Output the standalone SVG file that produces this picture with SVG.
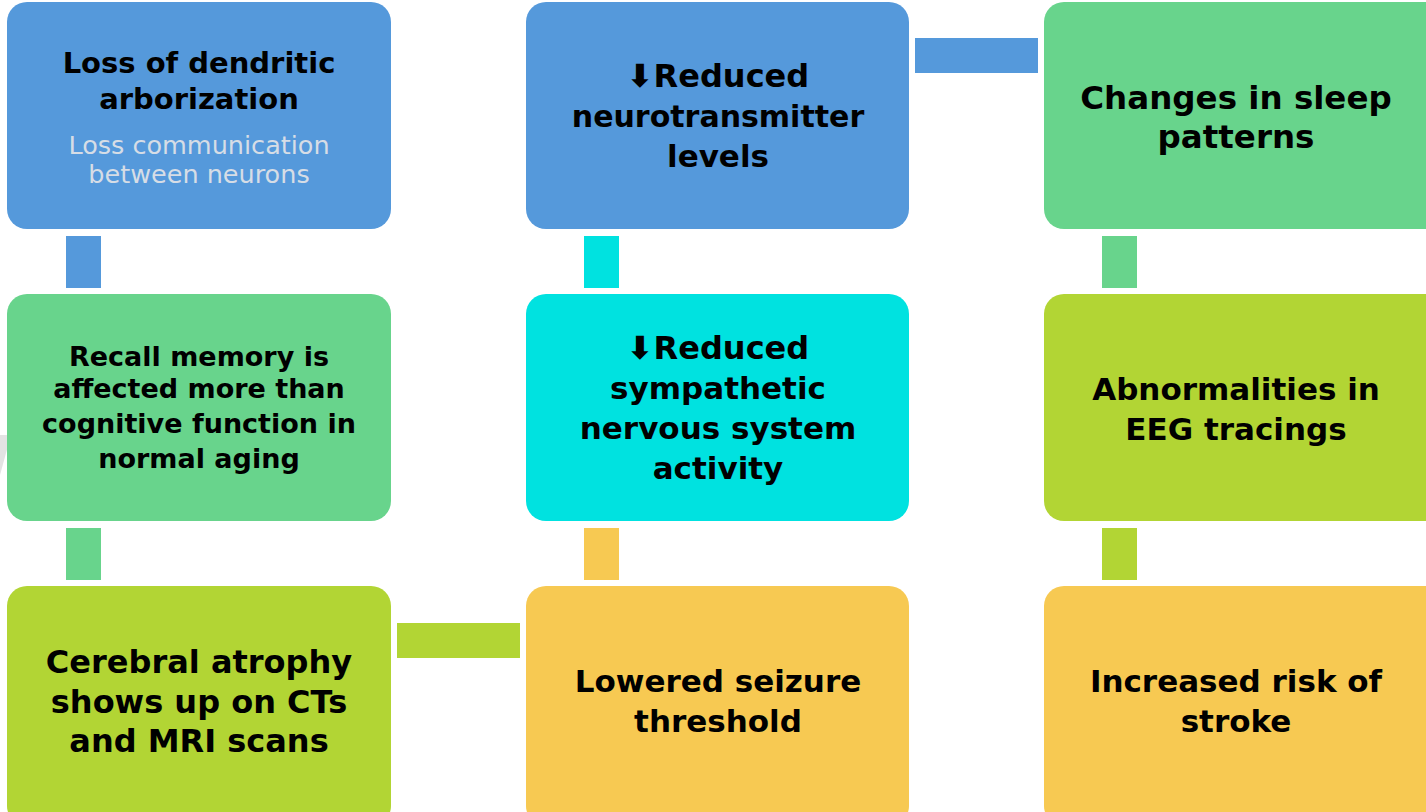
<svg xmlns="http://www.w3.org/2000/svg" width="1426" height="812" viewBox="0 0 1426 812">
<style>
.t{font-family:"DejaVu Sans","Liberation Sans",sans-serif;font-weight:bold;fill:#000;text-anchor:middle;font-size:31px}
.s{font-size:27px}
.r{font-size:32px}
.sub{font-family:"DejaVu Sans","Liberation Sans",sans-serif;fill:#d6dde6;text-anchor:middle;font-size:25.5px}
.blue{fill:#5599db}.green{fill:#68d48c}.lime{fill:#b2d534}.cyan{fill:#00e2e0}.yellow{fill:#f7c952}
</style>
<rect width="1426" height="812" fill="#fff"/>
<polygon points="0,435 11,435 0,475" fill="#e3e3e3"/>
<g id="connectors">
<rect class="blue" x="915" y="38" width="123" height="35"/>
<rect class="lime" x="397" y="623" width="123" height="35"/>
<rect class="blue" x="66" y="236" width="35" height="52"/>
<rect class="green" x="66" y="528" width="35" height="52"/>
<rect class="cyan" x="584" y="236" width="35" height="52"/>
<rect class="yellow" x="584" y="528" width="35" height="52"/>
<rect class="green" x="1102" y="236" width="35" height="52"/>
<rect class="lime" x="1102" y="528" width="35" height="52"/>
</g>
<g id="n1">
<rect class="blue" x="7" y="2" width="384" height="227" rx="20"/>
<text class="t" x="199" y="73" style="font-size:29px">Loss of dendritic</text>
<text class="t" x="199" y="109" style="font-size:29px">arborization</text>
<text class="sub" x="199" y="154">Loss communication</text>
<text class="sub" x="199" y="183">between neurons</text>
</g>
<g id="n2">
<rect class="blue" x="526" y="2" width="383" height="227" rx="20"/>
<text class="t r" x="718" y="87">⬇Reduced</text>
<text class="t" x="718" y="127" style="font-size:30px">neurotransmitter</text>
<text class="t" x="718" y="167">levels</text>
</g>
<g id="n3">
<rect class="green" x="1044" y="2" width="400" height="227" rx="20"/>
<text class="t" x="1236" y="109" style="font-size:32.5px">Changes in sleep</text>
<text class="t" x="1236" y="148" style="font-size:32.5px">patterns</text>
</g>
<g id="n4">
<rect class="green" x="7" y="294" width="384" height="227" rx="20"/>
<text class="t s" x="199" y="366">Recall memory is</text>
<text class="t s" x="199" y="398">affected more than</text>
<text class="t s" x="199" y="433">cognitive function in</text>
<text class="t s" x="199" y="468">normal aging</text>
</g>
<g id="n5">
<rect class="cyan" x="526" y="294" width="383" height="227" rx="20"/>
<text class="t r" x="718" y="359">⬇Reduced</text>
<text class="t" x="718" y="399">sympathetic</text>
<text class="t" x="718" y="439">nervous system</text>
<text class="t" x="718" y="479">activity</text>
</g>
<g id="n6">
<rect class="lime" x="1044" y="294" width="400" height="227" rx="20"/>
<text class="t" x="1236" y="400">Abnormalities in</text>
<text class="t" x="1236" y="440">EEG tracings</text>
</g>
<g id="n7">
<rect class="lime" x="7" y="586" width="384" height="240" rx="20"/>
<text class="t" x="199" y="673" style="font-size:32px">Cerebral atrophy</text>
<text class="t" x="199" y="713" style="font-size:32px">shows up on CTs</text>
<text class="t" x="199" y="752" style="font-size:32px">and MRI scans</text>
</g>
<g id="n8">
<rect class="yellow" x="526" y="586" width="383" height="240" rx="20"/>
<text class="t" x="718" y="692">Lowered seizure</text>
<text class="t" x="718" y="732">threshold</text>
</g>
<g id="n9">
<rect class="yellow" x="1044" y="586" width="400" height="240" rx="20"/>
<text class="t" x="1236" y="692">Increased risk of</text>
<text class="t" x="1236" y="732">stroke</text>
</g>
</svg>
